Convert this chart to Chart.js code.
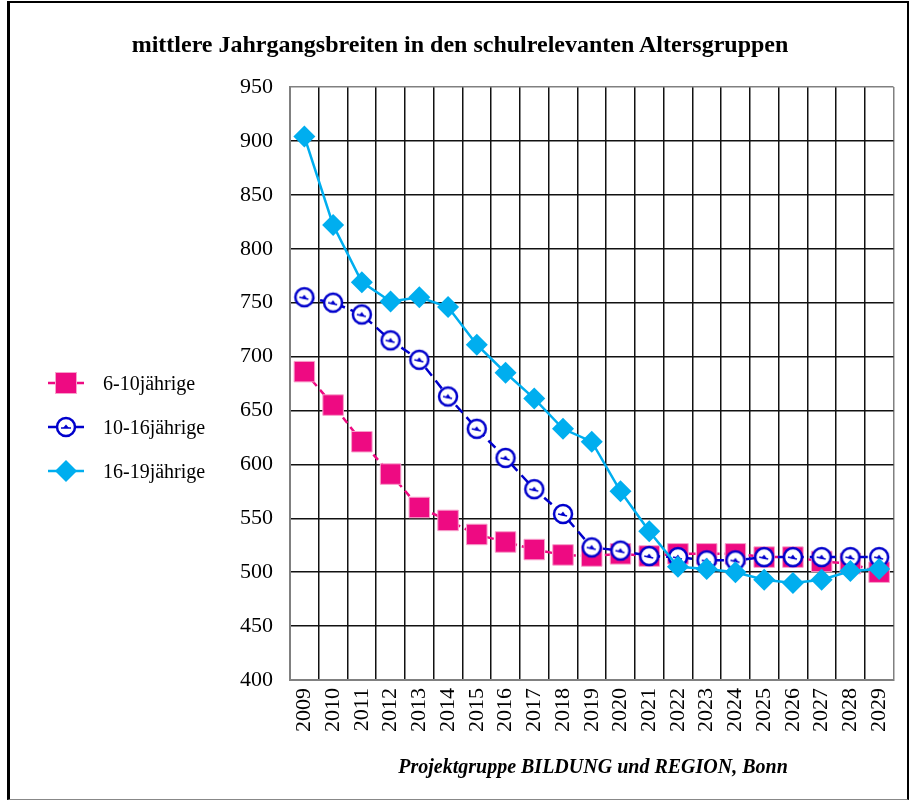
<!DOCTYPE html>
<html>
<head>
<meta charset="utf-8">
<script src="https://cdn.jsdelivr.net/npm/chart.js@4"></script>
<style>
    body { margin: 0; background: #fff; font-family: 'Liberation Serif', 'Times New Roman', serif; }
    #page { position: relative; width: 909px; height: 800px; overflow: hidden; }
    #frame { position: absolute; left: 7px; top: 1px; width: 897px; height: 796px; border: 2px solid #000; border-left-width: 3px; border-bottom: 1px solid #888; }
    #chart { position: absolute; left: 0; top: 0; }
    .title { position: absolute; left: 460px; top: 30px; transform: translateX(-50%); white-space: nowrap; font-size: 24px; font-weight: bold; line-height: 28px; }
    .footer { position: absolute; left: 593px; top: 754px; transform: translateX(-50%); white-space: nowrap; font-size: 20px; font-weight: bold; font-style: italic; line-height: 24px; }
    .legend-item { position: absolute; left: 44px; height: 26px; display: flex; align-items: center; }
    .legend-item svg { width: 44px; height: 26px; }
    .legend-item span { margin-left: 15px; font-size: 20px; line-height: 22px; }
</style>
</head>
<body>
<div id="page">
    <canvas id="chart" width="909" height="800"></canvas>
    <div id="frame"></div>
    <div class="title">mittlere Jahrgangsbreiten in den schulrelevanten Altersgruppen</div>
    <div class="footer">Projektgruppe BILDUNG und REGION, Bonn</div>

    <div class="legend-item" style="top: 370px;">
        <svg viewBox="0 0 44 26">
            <line x1="4" y1="13" x2="40" y2="13" stroke="#EE0A82" stroke-width="2.5"/>
            <rect x="11.5" y="2.5" width="21" height="21" fill="#EE0A82" stroke="#F7A1CB" stroke-width="1"/>
        </svg>
        <span>6-10jährige</span>
    </div>
    <div class="legend-item" style="top: 414px;">
        <svg viewBox="0 0 44 26">
            <line x1="4" y1="13" x2="40" y2="13" stroke="#0000CC" stroke-width="2.5"/>
            <circle cx="22" cy="13" r="9" fill="#fff" stroke="#0000CC" stroke-width="2.5"/>
            <line x1="17" y1="14" x2="27" y2="14" stroke="#0000CC" stroke-width="1.5"/>
            <path d="M19 14 L22 10.5 L25 14 Z" fill="#0000CC"/>
        </svg>
        <span>10-16jährige</span>
    </div>
    <div class="legend-item" style="top: 458px;">
        <svg viewBox="0 0 44 26">
            <line x1="4" y1="13" x2="40" y2="13" stroke="#00AEEF" stroke-width="2.5"/>
            <path d="M22 2 L33 13 L22 24 L11 13 Z" fill="#00AEEF"/>
        </svg>
        <span>16-19jährige</span>
    </div>
</div>

<script>
// values
var years = ['2009', '2010', '2011', '2012', '2013', '2014', '2015', '2016', '2017', '2018', '2019',
    '2020', '2021', '2022', '2023', '2024', '2025', '2026', '2027', '2028', '2029'];
var ages6to10 = [686, 655, 621, 591, 560, 548, 535, 528, 521, 516, 515, 517, 515, 517, 517, 517, 514, 514, 510, 508, 500];
var ages10to16 = [755, 750, 739, 715, 697, 663, 633, 606, 577, 554, 523, 520, 515, 514, 511, 511, 514, 514, 514, 514, 514];
var ages16to19 = [904, 822, 769, 751, 755, 746, 711, 685, 661, 633, 621, 575, 538, 505, 503, 500, 493, 490, 493, 501, 503];
var yMin = 400;
var yMax = 950;
var yStep = 50;

var serif = "'Liberation Serif', 'Times New Roman', serif";

function makeCircleMarker() {
    var c = document.createElement('canvas');
    c.width = 26;
    c.height = 26;
    var g = c.getContext('2d');
    g.beginPath();
    g.arc(13, 13, 9, 0, Math.PI * 2);
    g.fillStyle = '#fff';
    g.fill();
    g.lineWidth = 2.5;
    g.strokeStyle = '#0000CC';
    g.stroke();
    g.beginPath();
    g.moveTo(8, 13);
    g.lineTo(17, 15);
    g.lineWidth = 1.5;
    g.stroke();
    g.beginPath();
    g.moveTo(10, 14);
    g.lineTo(13, 10.5);
    g.lineTo(16, 15);
    g.closePath();
    g.fillStyle = '#0000CC';
    g.fill();
    return c;
}

var ctx = document.getElementById('chart');
new Chart(ctx, {
    type: 'line',
    data: {
        labels: years,
        datasets: [
            {
                label: '6-10jährige',
                data: ages6to10,
                order: 2,
                borderColor: '#EE0A82',
                backgroundColor: '#EE0A82',
                borderWidth: 2.5,
                borderDash: [7, 5],
                pointStyle: 'rect',
                pointRadius: 14.5,
                pointBackgroundColor: '#EE0A82',
                pointBorderColor: '#F7A1CB',
                pointBorderWidth: 1
            },
            {
                label: '10-16jährige',
                data: ages10to16,
                order: 1,
                borderColor: '#0000CC',
                backgroundColor: '#fff',
                borderWidth: 2.5,
                borderDash: [10, 6],
                pointStyle: makeCircleMarker(),
                pointRadius: 10
            },
            {
                label: '16-19jährige',
                data: ages16to19,
                order: 0,
                borderColor: '#00AEEF',
                backgroundColor: '#00AEEF',
                borderWidth: 2.5,
                pointStyle: 'rectRot',
                pointRadius: 11,
                pointBackgroundColor: '#00AEEF',
                pointBorderWidth: 0
            }
        ]
    },
    options: {
        responsive: false,
        devicePixelRatio: 1,
        animation: false,
        clip: false,
        layout: { padding: { top: 87, right: 14, bottom: 50, left: 0 } },
        plugins: {
            legend: { display: false },
            tooltip: { enabled: false }
        },
        scales: {
            x: {
                offset: true,
                grid: {
                    offset: true,
                    drawTicks: false,
                    lineWidth: 1.5,
                    color: function (c) {
                        return c.index === undefined ? '#808080' : '#111';
                    }
                },
                border: { color: '#808080', width: 2 },
                ticks: {
                    autoSkip: false,
                    minRotation: 90,
                    maxRotation: 90,
                    padding: 8,
                    color: '#000',
                    font: { family: serif, size: 22 }
                },
                afterFit: function (scale) {
                    scale.height = 70;
                    scale.paddingLeft = 0;
                    scale.paddingRight = 0;
                }
            },
            y: {
                min: yMin,
                max: yMax,
                grid: {
                    drawTicks: false,
                    lineWidth: 1.5,
                    color: function (c) {
                        return c.tick && c.tick.value === yMax ? '#808080' : '#111';
                    }
                },
                border: { color: '#808080', width: 2 },
                ticks: {
                    stepSize: yStep,
                    padding: 17,
                    color: '#000',
                    font: { family: serif, size: 22 }
                },
                afterFit: function (scale) {
                    scale.width = 290;
                    scale.paddingTop = 0;
                    scale.paddingBottom = 0;
                }
            }
        }
    }
});
</script>
</body>
</html>
